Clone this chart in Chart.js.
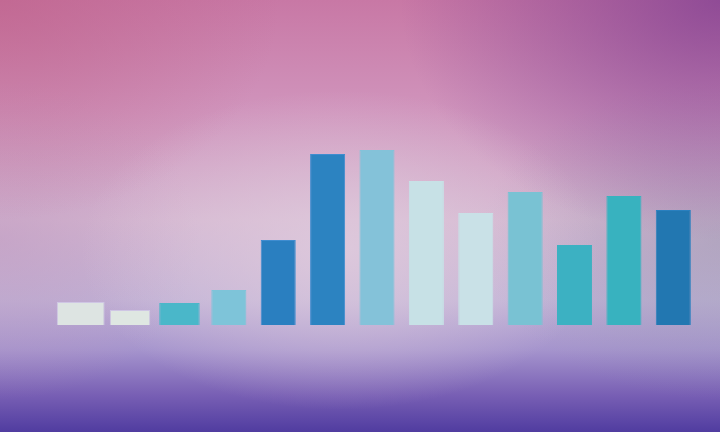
<!DOCTYPE html>
<html>
<head>
<meta charset="utf-8">
<script src="https://cdn.jsdelivr.net/npm/chart.js@4.4.1/dist/chart.umd.min.js"></script>
<style>
html, body { margin: 0; padding: 0; }
#fundo {
    position: relative;
    width: 720px;
    height: 432px;
    overflow: hidden;
    background:
        radial-gradient(ellipse 260px 160px at 340px 250px, rgba(225,205,222,0.8), rgba(225,205,222,0) 100%),
        radial-gradient(ellipse 280px 220px at 0px 0px, rgba(190,95,135,0.6), rgba(190,95,135,0) 100%),
        radial-gradient(ellipse 320px 240px at 720px 0px, rgba(125,60,145,0.75), rgba(125,60,145,0) 100%),
        radial-gradient(ellipse 240px 160px at 720px 240px, rgba(150,150,175,0.5), rgba(150,150,175,0) 100%),
        radial-gradient(ellipse 200px 160px at 0px 240px, rgba(190,150,190,0.5), rgba(190,150,190,0) 100%),
        linear-gradient(to bottom,
            rgb(200,120,165) 0px,
            rgb(208,148,188) 110px,
            rgb(212,182,208) 220px,
            rgb(192,178,214) 300px,
            rgb(165,148,205) 350px,
            rgb(120,95,180) 395px,
            rgb(80,60,160) 432px);
}
canvas { position: absolute; left: 0; top: 0; }
</style>
</head>
<body>
<div id="fundo">
    <canvas id="canvasGraficoBarra" width="720" height="432"></canvas>
</div>
<script>
var categorias = ['1', '2', '3', '4', '5', '6', '7', '8', '9', '10', '11', '12', '13']

// larguras diferentes nas primeiras barras
var valoresBarra1 = [23, null, null, null, null, null, null, null, null, null, null, null, null]
var valoresBarra2e3 = [null, 15, 22, null, null, null, null, null, null, null, null, null, null]
var valoresResto = [null, null, null, 35, 85, 171, 175, 144, 112, 133, 80, 129, 115]

var cores = ['#dde4e2', '#dfe7e2', '#4ab7c9', '#7ec4d9', '#2a7fc0', '#2c83c1', '#84c2d9',
    '#c7e1e6', '#c9e1e7', '#79c2d3', '#3cb1c2', '#38b2bf', '#2277b1']
var bordas = ['#cfc6e4', '#cfc6e4', '#4ab7c9', '#7ec4d9', '#3f8dd0', '#3f8dd0', '#84c2d9',
    '#c7e1e6', '#c9e1e7', '#79c2d3', '#3cb1c2', '#38b2bf', '#2a80bf']

var ctx = document.getElementById('canvasGraficoBarra').getContext('2d')

function montarDataset(nome, valores, largura){
    return {
        label: nome,
        data: valores,
        backgroundColor: cores,
        borderColor: bordas,
        borderWidth: 1,
        barPercentage: largura,
        categoryPercentage: 1
    }
}

var chart = new Chart(ctx, {
    type: 'bar',
    data: {
        labels: categorias,
        datasets: [
            montarDataset('barra1', valoresBarra1, 0.97),
            montarDataset('barra2e3', valoresBarra2e3, 0.82),
            montarDataset('resto', valoresResto, 0.71)
        ]
    },
    options: {
        responsive: false,
        animation: false,
        layout: { padding: { left: 56, right: 22, top: 125, bottom: 107 } },
        datasets: { bar: { grouped: false } },
        plugins: {
            legend: { display: false },
            tooltip: { enabled: false }
        },
        scales: {
            x: { display: false },
            y: { display: false, min: 0, max: 200 }
        }
    }
})
</script>
</body>
</html>
